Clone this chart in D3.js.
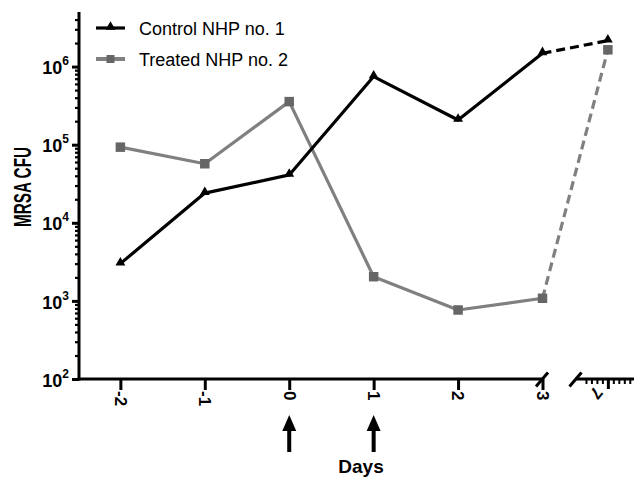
<!DOCTYPE html>
<html><head><meta charset="utf-8">
<script src="https://cdn.jsdelivr.net/npm/d3@7"></script>
<style>
html,body{margin:0;padding:0;background:#fff;}
svg{display:block;font-family:Arial,"Liberation Sans",Helvetica,sans-serif;}
</style></head>
<body>
<svg id="c" width="634" height="477"></svg>
<script>
const days = [-2, -1, 0, 1, 2, 3, 7];
const control = [3000, 24000, 41000, 745000, 207000, 1480000, 2150000];
const treated = [93000, 57000, 356000, 2040, 765, 1080, 1640000];
const seriesNames = ["Control NHP no. 1", "Treated NHP no. 2"];
const leftTicks = [-2, -1, 0, 1, 2, 3];
const rightTicks = [7];
const rightMinor = [3, 4, 5, 6, 8, 9, 10, 11, 12];
const yMajor = [1e2, 1e3, 1e4, 1e5, 1e6];
const yExp = [2, 3, 4, 5, 6];
const arrowDays = [0, 1];

const svg = d3.select("#c");
const y = d3.scaleLog().domain([100, 5e6]).range([379, 12]);
const x1 = d3.scaleLinear().domain([-2.49, 3]).range([79, 542.5]);
const x2 = d3.scaleLinear().domain([1, 12.5]).range([575, 638]);
const xp = d => d <= 3 ? x1(d) : x2(d);

// minor y ticks
const yMinor = [];
for (let e = 2; e <= 6; e++) for (let m = 2; m <= 9; m++) { const v = m * Math.pow(10, e); if (v < 5e6) yMinor.push(v); }

const gy = svg.append("g").attr("transform", "translate(79,0)");
gy.call(d3.axisLeft(y).tickValues(yMinor).tickSize(4).tickFormat("").tickSizeOuter(0));
gy.call(g => g.selectAll(".tick line").attr("stroke-width", 2.2));
const gyM = svg.append("g").attr("transform", "translate(79,0)");
gyM.call(d3.axisLeft(y).tickValues(yMajor).tickSize(7).tickSizeOuter(0).tickFormat(""));
gyM.selectAll(".tick line").attr("stroke-width", 3);
gyM.select(".domain").attr("stroke-width", 3).attr("d", `M0,${y(5e6)}V${y(100) + 1.5}`);
gy.select(".domain").remove();
gyM.selectAll(".tick").each(function(d, i) {
  const t = d3.select(this).append("text").attr("x", -10).attr("dy", "0.4em")
    .attr("text-anchor", "end").attr("fill", "#000").attr("font-size", 18).attr("font-weight", "bold");
  t.append("tspan").text("10");
  t.append("tspan").attr("font-size", 12).attr("dy", "-0.75em").text(yExp[i]);
});

// x axis left segment
const gx = svg.append("g").attr("transform", "translate(0,379)");
gx.call(d3.axisBottom(x1).tickValues(leftTicks).tickSize(11).tickSizeOuter(0).tickFormat(d3.format("d")));
gx.select(".domain").attr("stroke-width", 3).attr("d", `M77.5,0H542`);
gx.selectAll(".tick line").attr("stroke-width", 3);
gx.selectAll(".tick text").attr("transform", "rotate(90)").attr("x", 12).attr("y", 0).attr("dy", "0.36em")
  .attr("text-anchor", "start").attr("font-size", 17).attr("font-weight", "bold").attr("font-family", "Arial, 'Liberation Sans', sans-serif")
  .text(d => d < 0 ? "-" + Math.abs(d) : d);

// x axis right segment
const gx2 = svg.append("g").attr("transform", "translate(0,379)");
gx2.call(d3.axisBottom(x2).tickValues(rightMinor).tickSize(5).tickSizeOuter(0).tickFormat(""));
gx2.selectAll(".tick line").attr("stroke-width", 2);
gx2.select(".domain").attr("stroke-width", 3).attr("d", `M575,0H640`);
const gx2M = svg.append("g").attr("transform", "translate(0,379)");
gx2M.call(d3.axisBottom(x2).tickValues(rightTicks).tickSize(10).tickSizeOuter(0).tickFormat(d3.format("d")));
gx2M.select(".domain").remove();
gx2M.selectAll(".tick line").attr("stroke-width", 3);
gx2M.selectAll(".tick text").attr("transform", "rotate(130)").attr("x", 14).attr("y", 0).attr("dy", "0.36em")
  .attr("text-anchor", "start").attr("font-size", 17).attr("font-weight", "bold").attr("font-family", "Arial, 'Liberation Sans', sans-serif");

// break marks
[542, 575.5].forEach(cx => {
  svg.append("line").attr("x1", cx - 6).attr("y1", 386.5).attr("x2", cx + 6).attr("y2", 372.5)
    .attr("stroke", "#000").attr("stroke-width", 3);
});

// axis titles
svg.append("text").attr("transform", "translate(31,187) rotate(-90)").attr("text-anchor", "middle")
  .attr("font-size", 24).attr("font-weight", "bold").attr("textLength", 80).attr("lengthAdjust", "spacingAndGlyphs").text("MRSA CFU");
svg.append("text").attr("x", 361).attr("y", 473).attr("text-anchor", "middle")
  .attr("font-size", 19).attr("font-weight", "bold").text("Days");

// arrows
arrowDays.forEach(d => {
  const cx = x1(d);
  svg.append("rect").attr("x", cx - 2).attr("y", 427).attr("width", 4).attr("height", 25).attr("fill", "#000");
  svg.append("path").attr("d", `M${cx},415L${cx + 7},431L${cx - 7},431Z`).attr("fill", "#000");
});

// lines
const line = d3.line().x(d => xp(d.day)).y(d => y(d.v));
function drawSeries(vals, color, width) {
  const pts = days.map((d, i) => ({ day: d, v: vals[i] }));
  const solid = pts.filter(p => p.day <= 3);
  const dashed = pts.filter(p => p.day >= 3);
  svg.append("path").datum(solid).attr("d", line).attr("fill", "none").attr("stroke", color).attr("stroke-width", width).attr("stroke-linejoin", "round");
  svg.append("path").datum(dashed).attr("d", line).attr("fill", "none").attr("stroke", color).attr("stroke-width", width).attr("stroke-dasharray", "9,5");
  return pts;
}
const tri = d3.symbol().type(d3.symbolTriangle).size(42);
const sq = d3.symbol().type(d3.symbolSquare).size(90);

const tPts = drawSeries(treated, "#808080", 3.2);
svg.selectAll(".sq").data(tPts).join("path").attr("class", "sq")
  .attr("transform", d => `translate(${xp(d.day)},${y(d.v)})`).attr("d", sq).attr("fill", "#666");
const cPts = drawSeries(control, "#000", 3.2);
svg.selectAll(".tri").data(cPts).join("path").attr("class", "tri")
  .attr("transform", d => `translate(${xp(d.day)},${y(d.v) - 1})`).attr("d", tri).attr("fill", "#000");

// legend
const leg = [{ name: seriesNames[0], color: "#000", sym: tri, fill: "#000", w: 3.2 },
             { name: seriesNames[1], color: "#808080", sym: sq, fill: "#666", w: 4 }];
leg.forEach((l, i) => {
  const ly = 28 + i * 31;
  svg.append("line").attr("x1", 96).attr("x2", 125).attr("y1", ly).attr("y2", ly).attr("stroke", l.color).attr("stroke-width", l.w);
  svg.append("path").attr("transform", `translate(110.5,${ly - (i === 0 ? 1 : 0)})`).attr("d", i === 0 ? tri : d3.symbol().type(d3.symbolSquare).size(64)).attr("fill", l.fill);
  svg.append("text").attr("x", 139).attr("y", ly + 6.5).attr("font-size", 18).text(l.name);
});
</script>
</body></html>
